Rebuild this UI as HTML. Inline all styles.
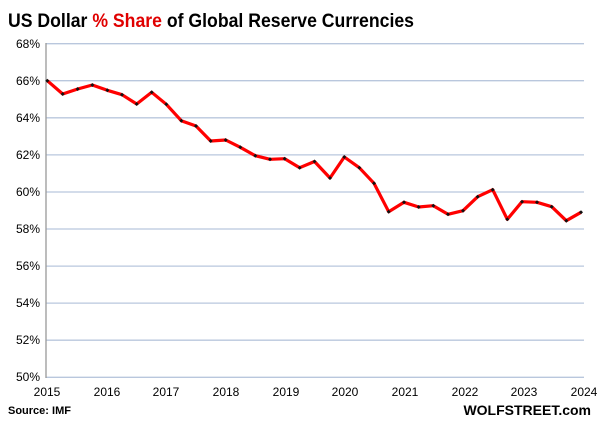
<!DOCTYPE html><html><head><style>body{margin:0;background:#fff;}svg{display:block;font-family:"Liberation Sans",Arial,sans-serif;}</style></head><body>
<svg width="600" height="423" viewBox="0 0 600 423">
<text x="8" y="27" font-size="19.5" font-weight="bold" fill="#000" textLength="406" lengthAdjust="spacingAndGlyphs">US Dollar <tspan fill="#e00000">% Share</tspan> of Global Reserve Currencies</text>
<g stroke="#b9c7dd" stroke-width="1.3">
<line x1="46" x2="584" y1="43.7" y2="43.7"/><line x1="46" x2="584" y1="80.7" y2="80.7"/><line x1="46" x2="584" y1="117.8" y2="117.8"/><line x1="46" x2="584" y1="154.9" y2="154.9"/><line x1="46" x2="584" y1="192" y2="192"/><line x1="46" x2="584" y1="229" y2="229"/><line x1="46" x2="584" y1="266.1" y2="266.1"/><line x1="46" x2="584" y1="303.1" y2="303.1"/><line x1="46" x2="584" y1="340.2" y2="340.2"/><line x1="46" x2="584" y1="377.3" y2="377.3"/>
</g>
<line x1="46" x2="46" y1="43" y2="378" stroke="#999" stroke-width="1.3"/>
<g font-size="12" fill="#000" text-anchor="end">
<text x="40" y="48">68%</text><text x="40" y="85">66%</text><text x="40" y="122">64%</text><text x="40" y="159">62%</text><text x="40" y="196">60%</text><text x="40" y="233">58%</text><text x="40" y="270">56%</text><text x="40" y="307">54%</text><text x="40" y="344">52%</text><text x="40" y="381">50%</text>
</g>
<g font-size="12" fill="#000" text-anchor="middle">
<text x="47" y="396">2015</text><text x="107" y="396">2016</text><text x="166" y="396">2017</text><text x="226" y="396">2018</text><text x="286" y="396">2019</text><text x="345" y="396">2020</text><text x="405" y="396">2021</text><text x="465" y="396">2022</text><text x="524" y="396">2023</text><text x="584" y="396">2024</text>
</g>
<text x="8" y="414" font-size="11" font-weight="bold">Source: IMF</text>
<text x="591" y="415" font-size="14" font-weight="bold" text-anchor="end">WOLFSTREET.com</text>
<polyline fill="none" stroke="#ff0000" stroke-width="3.2" stroke-linejoin="round" points="47.3,80.7 62.7,94 77.7,89 92.3,85 107.3,90.3 122,94.7 136.7,104 151.7,92.3 166.3,104.3 181.3,120.7 196,126 210.7,141 225.7,140 240.3,147.3 255.3,155.7 270,159.3 284.7,158.7 299.7,167.7 314.5,161.5 330,178 344.3,157 359.3,167.7 374,183.3 388.7,211.7 404,202.3 418.7,207 433.3,205.7 448,214.3 463,210.7 477.7,196.7 492.7,189.7 507.3,219.3 522,201.7 537,202.3 551.7,206.7 566.3,220.7 581,212.3"/>
<g fill="#111">
<path d="M47.3,78.7l2,2l-2,2l-2,-2z M62.7,92l2,2l-2,2l-2,-2z M77.7,87l2,2l-2,2l-2,-2z M92.3,83l2,2l-2,2l-2,-2z M107.3,88.3l2,2l-2,2l-2,-2z M122,92.7l2,2l-2,2l-2,-2z M136.7,102l2,2l-2,2l-2,-2z M151.7,90.3l2,2l-2,2l-2,-2z M166.3,102.3l2,2l-2,2l-2,-2z M181.3,118.7l2,2l-2,2l-2,-2z M196,124l2,2l-2,2l-2,-2z M210.7,139l2,2l-2,2l-2,-2z M225.7,138l2,2l-2,2l-2,-2z M240.3,145.3l2,2l-2,2l-2,-2z M255.3,153.7l2,2l-2,2l-2,-2z M270,157.3l2,2l-2,2l-2,-2z M284.7,156.7l2,2l-2,2l-2,-2z M299.7,165.7l2,2l-2,2l-2,-2z M314.5,159.5l2,2l-2,2l-2,-2z M330,176l2,2l-2,2l-2,-2z M344.3,155l2,2l-2,2l-2,-2z M359.3,165.7l2,2l-2,2l-2,-2z M374,181.3l2,2l-2,2l-2,-2z M388.7,209.7l2,2l-2,2l-2,-2z M404,200.3l2,2l-2,2l-2,-2z M418.7,205l2,2l-2,2l-2,-2z M433.3,203.7l2,2l-2,2l-2,-2z M448,212.3l2,2l-2,2l-2,-2z M463,208.7l2,2l-2,2l-2,-2z M477.7,194.7l2,2l-2,2l-2,-2z M492.7,187.7l2,2l-2,2l-2,-2z M507.3,217.3l2,2l-2,2l-2,-2z M522,199.7l2,2l-2,2l-2,-2z M537,200.3l2,2l-2,2l-2,-2z M551.7,204.7l2,2l-2,2l-2,-2z M566.3,218.7l2,2l-2,2l-2,-2z M581,210.3l2,2l-2,2l-2,-2z"/>
</g>
</svg>
</body></html>
